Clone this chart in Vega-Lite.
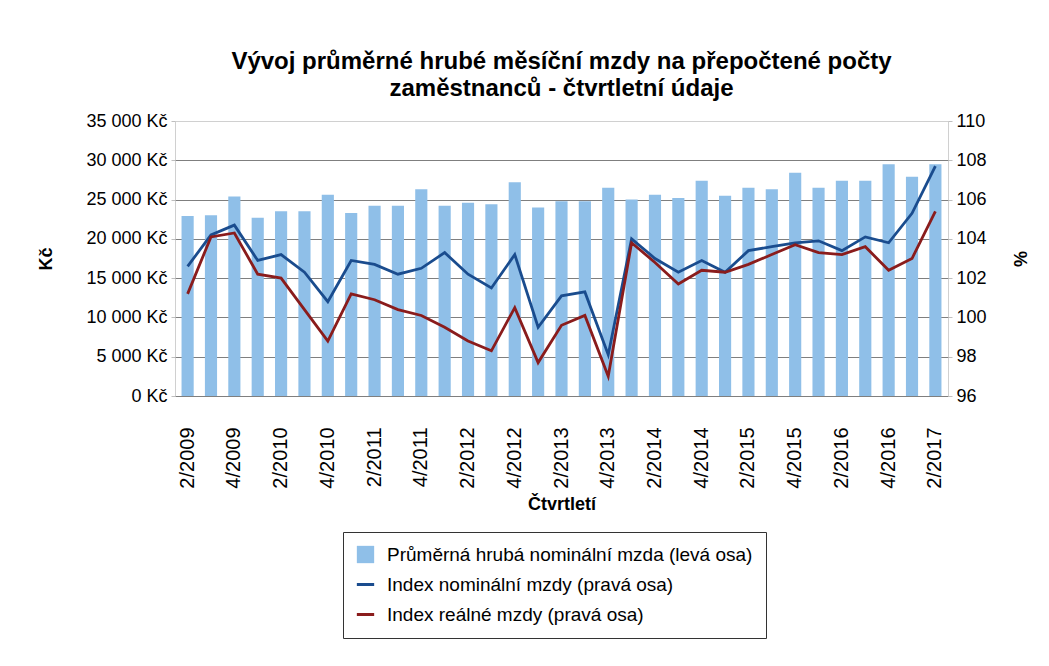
{
  "$schema": "https://vega.github.io/schema/vega-lite/v6.json",
  "width": 773,
  "height": 275,
  "autosize": "none",
  "padding": {"left": 175, "top": 121, "right": 101, "bottom": 270},
  "background": "white",
  "title": {
    "text": ["Vývoj průměrné hrubé měsíční mzdy na přepočtené počty", "zaměstnanců - čtvrtletní údaje"],
    "font": "Liberation Sans",
    "fontSize": 24,
    "fontWeight": "bold",
    "color": "#000000",
    "lineHeight": 27,
    "offset": 11,
    "anchor": "middle"
  },
  "data": {
    "values": [
      {"q": "2/2009", "mzda": 22900, "nom": 102.6, "real": 101.2},
      {"q": "3/2009", "mzda": 23000, "nom": 104.2, "real": 104.1},
      {"q": "4/2009", "mzda": 25400, "nom": 104.7, "real": 104.3},
      {"q": "1/2010", "mzda": 22700, "nom": 102.9, "real": 102.2},
      {"q": "2/2010", "mzda": 23500, "nom": 103.2, "real": 102.0},
      {"q": "3/2010", "mzda": 23500, "nom": 102.3, "real": 100.4},
      {"q": "4/2010", "mzda": 25600, "nom": 100.8, "real": 98.8},
      {"q": "1/2011", "mzda": 23300, "nom": 102.9, "real": 101.2},
      {"q": "2/2011", "mzda": 24200, "nom": 102.7, "real": 100.9},
      {"q": "3/2011", "mzda": 24200, "nom": 102.2, "real": 100.4},
      {"q": "4/2011", "mzda": 26300, "nom": 102.5, "real": 100.1},
      {"q": "1/2012", "mzda": 24200, "nom": 103.3, "real": 99.5},
      {"q": "2/2012", "mzda": 24600, "nom": 102.2, "real": 98.8},
      {"q": "3/2012", "mzda": 24400, "nom": 101.5, "real": 98.3},
      {"q": "4/2012", "mzda": 27200, "nom": 103.2, "real": 100.5},
      {"q": "1/2013", "mzda": 24000, "nom": 99.5, "real": 97.7},
      {"q": "2/2013", "mzda": 24800, "nom": 101.1, "real": 99.6},
      {"q": "3/2013", "mzda": 24800, "nom": 101.3, "real": 100.1},
      {"q": "4/2013", "mzda": 26500, "nom": 98.1, "real": 97.0},
      {"q": "1/2014", "mzda": 25000, "nom": 104.0, "real": 103.8},
      {"q": "2/2014", "mzda": 25600, "nom": 103.0, "real": 102.8},
      {"q": "3/2014", "mzda": 25200, "nom": 102.3, "real": 101.7},
      {"q": "4/2014", "mzda": 27400, "nom": 102.9, "real": 102.4},
      {"q": "1/2015", "mzda": 25500, "nom": 102.3, "real": 102.3},
      {"q": "2/2015", "mzda": 26500, "nom": 103.4, "real": 102.7},
      {"q": "3/2015", "mzda": 26300, "nom": 103.6, "real": 103.2},
      {"q": "4/2015", "mzda": 28400, "nom": 103.8, "real": 103.7},
      {"q": "1/2016", "mzda": 26500, "nom": 103.9, "real": 103.3},
      {"q": "2/2016", "mzda": 27400, "nom": 103.4, "real": 103.2},
      {"q": "3/2016", "mzda": 27400, "nom": 104.1, "real": 103.6},
      {"q": "4/2016", "mzda": 29500, "nom": 103.8, "real": 102.4},
      {"q": "1/2017", "mzda": 27900, "nom": 105.3, "real": 103.0},
      {"q": "2/2017", "mzda": 29500, "nom": 107.7, "real": 105.4}
    ]
  },
  "encoding": {
    "x": {
      "field": "q",
      "type": "ordinal",
      "sort": null,
      "scale": {"paddingInner": 0.48, "paddingOuter": 0.28},
      "axis": {
        "values": ["2/2009", "4/2009", "2/2010", "4/2010", "2/2011", "4/2011", "2/2012", "4/2012", "2/2013", "4/2013", "2/2014", "4/2014", "2/2015", "4/2015", "2/2016", "4/2016", "2/2017"],
        "labelAngle": -90,
        "labelAlign": "right",
        "labelBaseline": "middle",
        "labelFont": "Liberation Sans",
        "labelFontSize": 20,
        "labelColor": "#000000",
        "labelPadding": 31,
        "labelOverlap": false,
        "ticks": false,
        "domain": false,
        "grid": false,
        "title": "Čtvrtletí",
        "titleFont": "Liberation Sans",
        "titleFontSize": 18,
        "titleFontWeight": "bold",
        "titleColor": "#000000",
        "titlePadding": 7
      }
    }
  },
  "layer": [
    {
      "mark": {"type": "bar"},
      "encoding": {
        "y": {
          "field": "mzda",
          "type": "quantitative",
          "scale": {"domain": [0, 35000], "nice": false},
          "axis": {
            "values": [0, 5000, 10000, 15000, 20000, 25000, 30000, 35000],
            "labelExpr": "replace(format(datum.value, ','), ',', ' ') + ' Kč'",
            "labelFont": "Liberation Sans",
            "labelFontSize": 18,
            "labelColor": "#000000",
            "labelPadding": 4,
            "labelOverlap": false,
            "tickSize": 4,
            "tickColor": "#BFBFBF",
            "domain": false,
            "grid": true,
            "gridColor": {"condition": {"test": "datum.value == 35000", "value": "#D0D0D0"}, "value": "#7F7F7F"},
            "gridWidth": 1,
            "title": "Kč",
            "titleFont": "Liberation Sans",
            "titleFontSize": 18,
            "titleFontWeight": "bold",
            "titleColor": "#000000",
            "titlePadding": 30
          }
        },
        "color": {
          "datum": "Průměrná hrubá nominální mzda (levá osa)",
          "scale": {
            "domain": ["Průměrná hrubá nominální mzda (levá osa)", "Index nominální mzdy (pravá osa)", "Index reálné mzdy (pravá osa)"],
            "range": ["#8FBFE8", "#1A4C8E", "#8A1C1C"]
          },
          "legend": {
            "title": null,
            "orient": "none",
            "legendX": 168,
            "legendY": 411,
            "direction": "vertical",
            "labelFont": "Liberation Sans",
            "labelFontSize": 19,
            "labelColor": "#000000",
            "labelLimit": 600,
            "labelOffset": 12,
            "strokeColor": "#333333",
            "padding": 13,
            "rowPadding": 10,
            "symbolSize": 300,
            "symbolType": "square",
            "encode": {
              "symbols": {
                "update": {
                  "shape": {"signal": "datum.index == 0 ? 'square' : 'stroke'"},
                  "fill": {"signal": "datum.index == 0 ? '#8FBFE8' : 'transparent'"},
                  "stroke": {"signal": "datum.index == 0 ? '#8FBFE8' : (datum.index == 1 ? '#1A4C8E' : '#8A1C1C')"},
                  "strokeWidth": {"signal": "datum.index == 0 ? 0 : 3"}
                }
              }
            }
          }
        }
      }
    },
    {
      "layer": [
        {
          "mark": {"type": "line", "strokeWidth": 2.8},
          "encoding": {
            "y": {
              "field": "nom",
              "type": "quantitative",
              "scale": {"domain": [96, 110], "nice": false, "zero": false},
              "axis": {
                "orient": "right",
                "values": [96, 98, 100, 102, 104, 106, 108, 110],
                "labelFont": "Liberation Sans",
                "labelFontSize": 18,
                "labelColor": "#000000",
                "labelPadding": 4,
                "labelOverlap": false,
                "tickSize": 4,
                "tickColor": "#BFBFBF",
                "domain": false,
                "grid": false,
                "title": "%",
                "titleFont": "Liberation Sans",
                "titleFontSize": 18,
                "titleFontWeight": "bold",
                "titleColor": "#000000",
                "titlePadding": 23
              }
            },
            "color": {"datum": "Index nominální mzdy (pravá osa)"}
          }
        },
        {
          "mark": {"type": "line", "strokeWidth": 2.8},
          "encoding": {
            "y": {
              "field": "real",
              "type": "quantitative",
              "scale": {"domain": [96, 110], "nice": false, "zero": false},
              "axis": {
                "orient": "right",
                "values": [96, 98, 100, 102, 104, 106, 108, 110],
                "labelFont": "Liberation Sans",
                "labelFontSize": 18,
                "labelColor": "#000000",
                "labelPadding": 4,
                "labelOverlap": false,
                "tickSize": 4,
                "tickColor": "#BFBFBF",
                "domain": false,
                "grid": false,
                "title": "%",
                "titleFont": "Liberation Sans",
                "titleFontSize": 18,
                "titleFontWeight": "bold",
                "titleColor": "#000000",
                "titlePadding": 23
              }
            },
            "color": {"datum": "Index reálné mzdy (pravá osa)"}
          }
        }
      ],
      "resolve": {"scale": {"y": "shared"}, "axis": {"y": "shared"}}
    }
  ],
  "resolve": {"scale": {"y": "independent"}},
  "config": {
    "view": {"stroke": "#D0D0D0", "strokeWidth": 1}
  }
}
